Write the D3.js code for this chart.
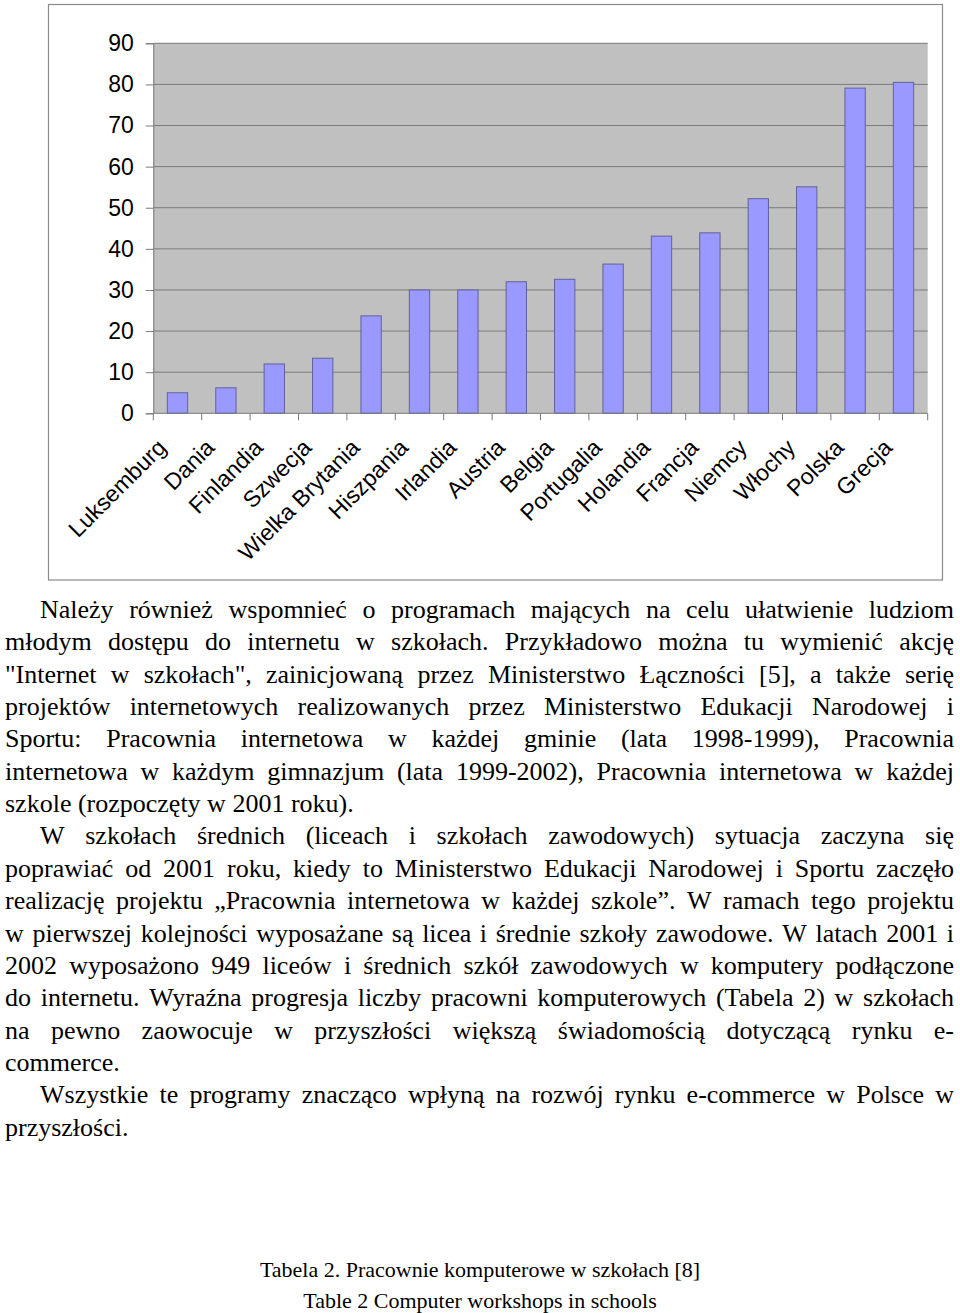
<!DOCTYPE html>
<html>
<head>
<meta charset="utf-8">
<script src="https://cdn.jsdelivr.net/npm/d3@7"></script>
<style>
  html, body { margin: 0; padding: 0; background: #fff; }
  svg { display: block; }
</style>
</head>
<body>
<svg id="page" width="960" height="1313"></svg>
<script>
// ---- data ----
const categories = ["Luksemburg", "Dania", "Finlandia", "Szwecja", "Wielka Brytania", "Hiszpania",
  "Irlandia", "Austria", "Belgia", "Portugalia", "Holandia", "Francja", "Niemcy", "Włochy", "Polska", "Grecja"];
const values = [5, 6.2, 12, 13.4, 23.7, 30, 30, 32, 32.6, 36.3, 43.1, 43.9, 52.2, 55.1, 79.1, 80.5];
const yTicks = [0, 10, 20, 30, 40, 50, 60, 70, 80, 90];

const paragraphs = [
  ["Należy również wspomnieć o programach mających na celu ułatwienie ludziom",
   "młodym dostępu do internetu w szkołach. Przykładowo można tu wymienić akcję",
   "\"Internet w szkołach\", zainicjowaną przez Ministerstwo Łączności [5], a także serię",
   "projektów internetowych realizowanych przez Ministerstwo Edukacji Narodowej i",
   "Sportu: Pracownia internetowa w każdej gminie (lata 1998-1999), Pracownia",
   "internetowa w każdym gimnazjum (lata 1999-2002), Pracownia internetowa w każdej",
   "szkole (rozpoczęty w 2001 roku)."],
  ["W szkołach średnich (liceach i szkołach zawodowych) sytuacja zaczyna się",
   "poprawiać od 2001 roku, kiedy to Ministerstwo Edukacji Narodowej i Sportu zaczęło",
   "realizację projektu „Pracownia internetowa w każdej szkole”. W ramach tego projektu",
   "w pierwszej kolejności wyposażane są licea i średnie szkoły zawodowe. W latach 2001 i",
   "2002 wyposażono 949 liceów i średnich szkół zawodowych w komputery podłączone",
   "do internetu. Wyraźna progresja liczby pracowni komputerowych (Tabela 2) w szkołach",
   "na pewno zaowocuje w przyszłości większą świadomością dotyczącą rynku e-",
   "commerce."],
  ["Wszystkie te programy znacząco wpłyną na rozwój rynku e-commerce w Polsce w",
   "przyszłości."]
];
const captionLines = ["Tabela 2. Pracownie komputerowe w szkołach [8]", "Table 2 Computer workshops in schools"];

// ---- chart ----
const svg = d3.select("#page");
const plot = { left: 153.3, right: 927.7, top: 43.3, bottom: 413.3 };

svg.append("rect")
  .attr("x", 48.5).attr("y", 4.5).attr("width", 894).attr("height", 575.5)
  .attr("fill", "#fff").attr("stroke", "#8a8a8a").attr("stroke-width", 1.2);

const x = d3.scaleBand().domain(categories).range([plot.left, plot.right])
  .paddingInner(0.58).paddingOuter(0.29);
const xTicksScale = d3.scaleBand().domain(categories).range([plot.left, plot.right]).padding(0);
const y = d3.scaleLinear().domain([0, 90]).range([plot.bottom, plot.top]);

svg.append("rect")
  .attr("x", plot.left).attr("y", plot.top)
  .attr("width", plot.right - plot.left).attr("height", plot.bottom - plot.top)
  .attr("fill", "#c0c0c0");

// gridlines
svg.append("g").selectAll("line").data(yTicks.filter(d => d > 0)).join("line")
  .attr("x1", plot.left).attr("x2", plot.right)
  .attr("y1", d => y(d)).attr("y2", d => y(d))
  .attr("stroke", "#7a7a7a").attr("stroke-width", 1);

// bars
svg.append("g").selectAll("rect").data(values).join("rect")
  .attr("x", (d, i) => x(categories[i]))
  .attr("width", x.bandwidth())
  .attr("y", d => y(d))
  .attr("height", d => y(0) - y(d))
  .attr("fill", "#9999ff")
  .attr("stroke", "#62629a").attr("stroke-width", 1);

// y axis
const yAxis = d3.axisLeft(y).tickValues(yTicks).tickSize(7.5).tickPadding(12).tickFormat(d3.format("d"));
const gy = svg.append("g").attr("transform", `translate(${plot.left},0)`).call(yAxis);
gy.select(".domain").attr("stroke", "#7a7a7a");
gy.selectAll(".tick line").attr("stroke", "#7a7a7a");
gy.selectAll(".tick text")
  .attr("font-family", "'Liberation Sans', Arial, sans-serif")
  .attr("font-size", 23).attr("fill", "#000");

// x axis
const step = xTicksScale.step();
const gx = svg.append("g").attr("transform", `translate(0,${plot.bottom})`);
gx.append("line").attr("x1", plot.left).attr("x2", plot.right).attr("y1", 0).attr("y2", 0)
  .attr("stroke", "#7a7a7a");
gx.selectAll("line.tk").data(categories.concat(["__end"])).join("line").attr("class", "tk")
  .attr("x1", (d, i) => plot.left + i * step).attr("x2", (d, i) => plot.left + i * step)
  .attr("y1", 0).attr("y2", 7).attr("stroke", "#7a7a7a");
svg.append("g").selectAll("text").data(categories).join("text")
  .attr("transform", d => `translate(${xTicksScale(d) + step / 2 - 10},449) rotate(-45)`)
  .attr("text-anchor", "end")
  .attr("font-family", "'Liberation Sans', Arial, sans-serif")
  .attr("font-size", 23).attr("fill", "#000")
  .text(d => d);

// ---- body text (justified) ----
const bodyFont = "'Liberation Serif', 'Times New Roman', serif";
const bodySize = 26;
const leftX = 5, rightX = 954, indentX = 40, lineH = 32.35;
let baseline = 618;
const body = svg.append("g").attr("font-family", bodyFont).attr("font-size", bodySize).attr("fill", "#000");

paragraphs.forEach(par => {
  par.forEach((line, li) => {
    const startX = li === 0 ? indentX : leftX;
    const isLast = li === par.length - 1;
    const words = line.split(" ");
    if (isLast) {
      body.append("text").attr("x", startX).attr("y", baseline).text(line);
    } else {
      const nodes = words.map(w => body.append("text").attr("y", baseline).text(w));
      const widths = nodes.map(n => n.node().getComputedTextLength());
      const total = d3.sum(widths);
      const avail = rightX - startX;
      let gap = (avail - total) / (words.length - 1);
      let scale = 1;
      if (gap < 4) { gap = 4; scale = (avail - gap * (words.length - 1)) / total; }
      let cx = startX;
      nodes.forEach((n, i) => {
        if (scale !== 1) {
          n.attr("textLength", widths[i] * scale).attr("lengthAdjust", "spacingAndGlyphs");
        }
        n.attr("x", cx);
        cx += widths[i] * scale + gap;
      });
    }
    baseline += lineH;
  });
});

// ---- caption ----
svg.append("g").selectAll("text").data(captionLines).join("text")
  .attr("x", 480).attr("y", (d, i) => 1277 + i * 31)
  .attr("text-anchor", "middle")
  .attr("font-family", bodyFont).attr("font-size", 22).attr("fill", "#000")
  .text(d => d);
</script>
</body>
</html>
